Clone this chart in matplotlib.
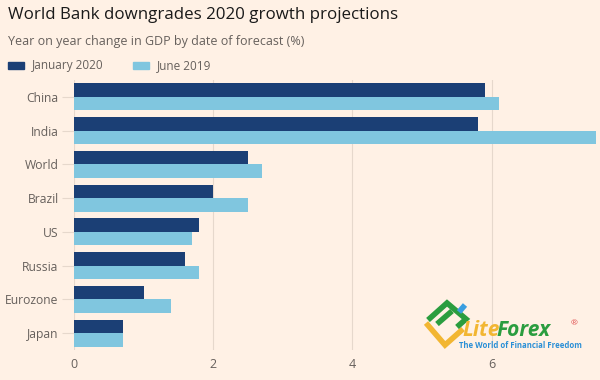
import numpy as np
import matplotlib
matplotlib.use("Agg")
import matplotlib.pyplot as plt
from matplotlib.patches import Rectangle
from matplotlib.lines import Line2D

# data (% change in GDP)
countries = ["China", "India", "World", "Brazil", "US", "Russia", "Eurozone", "Japan"]
jan_2020 = [5.9, 5.8, 2.5, 2.0, 1.8, 1.6, 1.0, 0.7]
jun_2019 = [6.1, 7.5, 2.7, 2.5, 1.7, 1.8, 1.4, 0.7]
series_labels = ["January 2020", "June 2019"]
x_ticks = [0, 2, 4, 6]

BG = "#fff1e5"
DARK = "#1b3f75"
LIGHT = "#80c6df"
GRID = "#e6d8cc"
TXT = "#66605c"

plt.rcParams["font.family"] = ["Open Sans", "DejaVu Sans"]

fig = plt.figure(figsize=(6, 3.8), dpi=100, facecolor=BG)
ax = fig.add_axes([74 / 600, 1 - 350 / 380, (596 - 74) / 600, (350 - 80) / 380])
ax.set_facecolor(BG)

y = np.arange(len(countries))
h = 0.4
ax.barh(y - h / 2, jan_2020, height=h, color=DARK, label=series_labels[0], zorder=3)
ax.barh(y + h / 2, jun_2019, height=h, color=LIGHT, label=series_labels[1], zorder=3)

ax.set_xlim(0, 7.5)
ax.set_ylim(len(countries) - 0.5, -0.5)
ax.set_yticks(y)
ax.set_yticklabels(countries)
ax.set_xticks(x_ticks)
ax.set_xticklabels([str(t) for t in x_ticks])
ax.grid(axis="x", color=GRID, linewidth=0.8, zorder=0)
for s in ax.spines.values():
    s.set_visible(False)
ax.tick_params(axis="y", length=9, width=0.8, color=GRID, pad=2, labelsize=8.7, labelcolor=TXT)
ax.tick_params(axis="x", length=0, pad=6, labelsize=9, labelcolor=TXT)

# titles
fig.text(8 / 600, 1 - 15 / 380, "World Bank downgrades 2020 growth projections",
         fontsize=12.2, color="#1a1a1a", va="center", ha="left")
fig.text(8 / 600, 1 - 41 / 380, "Year on year change in GDP by date of forecast (%)",
         fontsize=9, color=TXT, va="center", ha="left")

# legend drawn by hand in FT style
legend_y = 1 - 66 / 380
for x0, col, lab in [(8, DARK, series_labels[0]), (133, LIGHT, series_labels[1])]:
    fig.patches.append(Rectangle((x0 / 600, legend_y - 3 / 380), 16 / 600, 7 / 380,
                                 transform=fig.transFigure, color=col))
    fig.text((x0 + 24) / 600, legend_y, lab, fontsize=8.5, color=TXT, va="center", ha="left")

# watermark (LiteForex logo, rough)
def px(xs, ys):
    return [x / 600 for x in xs], [1 - v / 380 for v in ys]

for xs, ys, col in [([426, 445, 463], [323, 345, 329], "#f2b632"),
                    ([428, 447, 466, 457], [320, 303, 319, 327], "#2a9d3f"),
                    ([437, 452], [324, 311], "#2a9d3f"),
                    ([459, 465], [312, 305], "#3a9ee0")]:
    xx, yy = px(xs, ys)
    fig.lines.append(Line2D(xx, yy, transform=fig.transFigure, color=col,
                            linewidth=4, solid_capstyle="butt", solid_joinstyle="miter"))

fig.text(462 / 600, 1 - 330 / 380, "Lite", fontsize=15, fontweight="bold", style="italic",
         color="#f2b632", va="center", ha="left")
fig.text(496 / 600, 1 - 330 / 380, "Forex", fontsize=15, fontweight="bold", style="italic",
         color="#2a9d3f", va="center", ha="left")
fig.text(571 / 600, 1 - 324 / 380, "®", fontsize=6, color="#e05050", va="center", ha="left")
fig.text(459 / 600, 1 - 346 / 380, "The World of Financial Freedom", fontsize=5.6,
         fontweight="bold", color="#2a8fd6", va="center", ha="left")

fig.savefig("out.png", dpi=100, facecolor=BG)
